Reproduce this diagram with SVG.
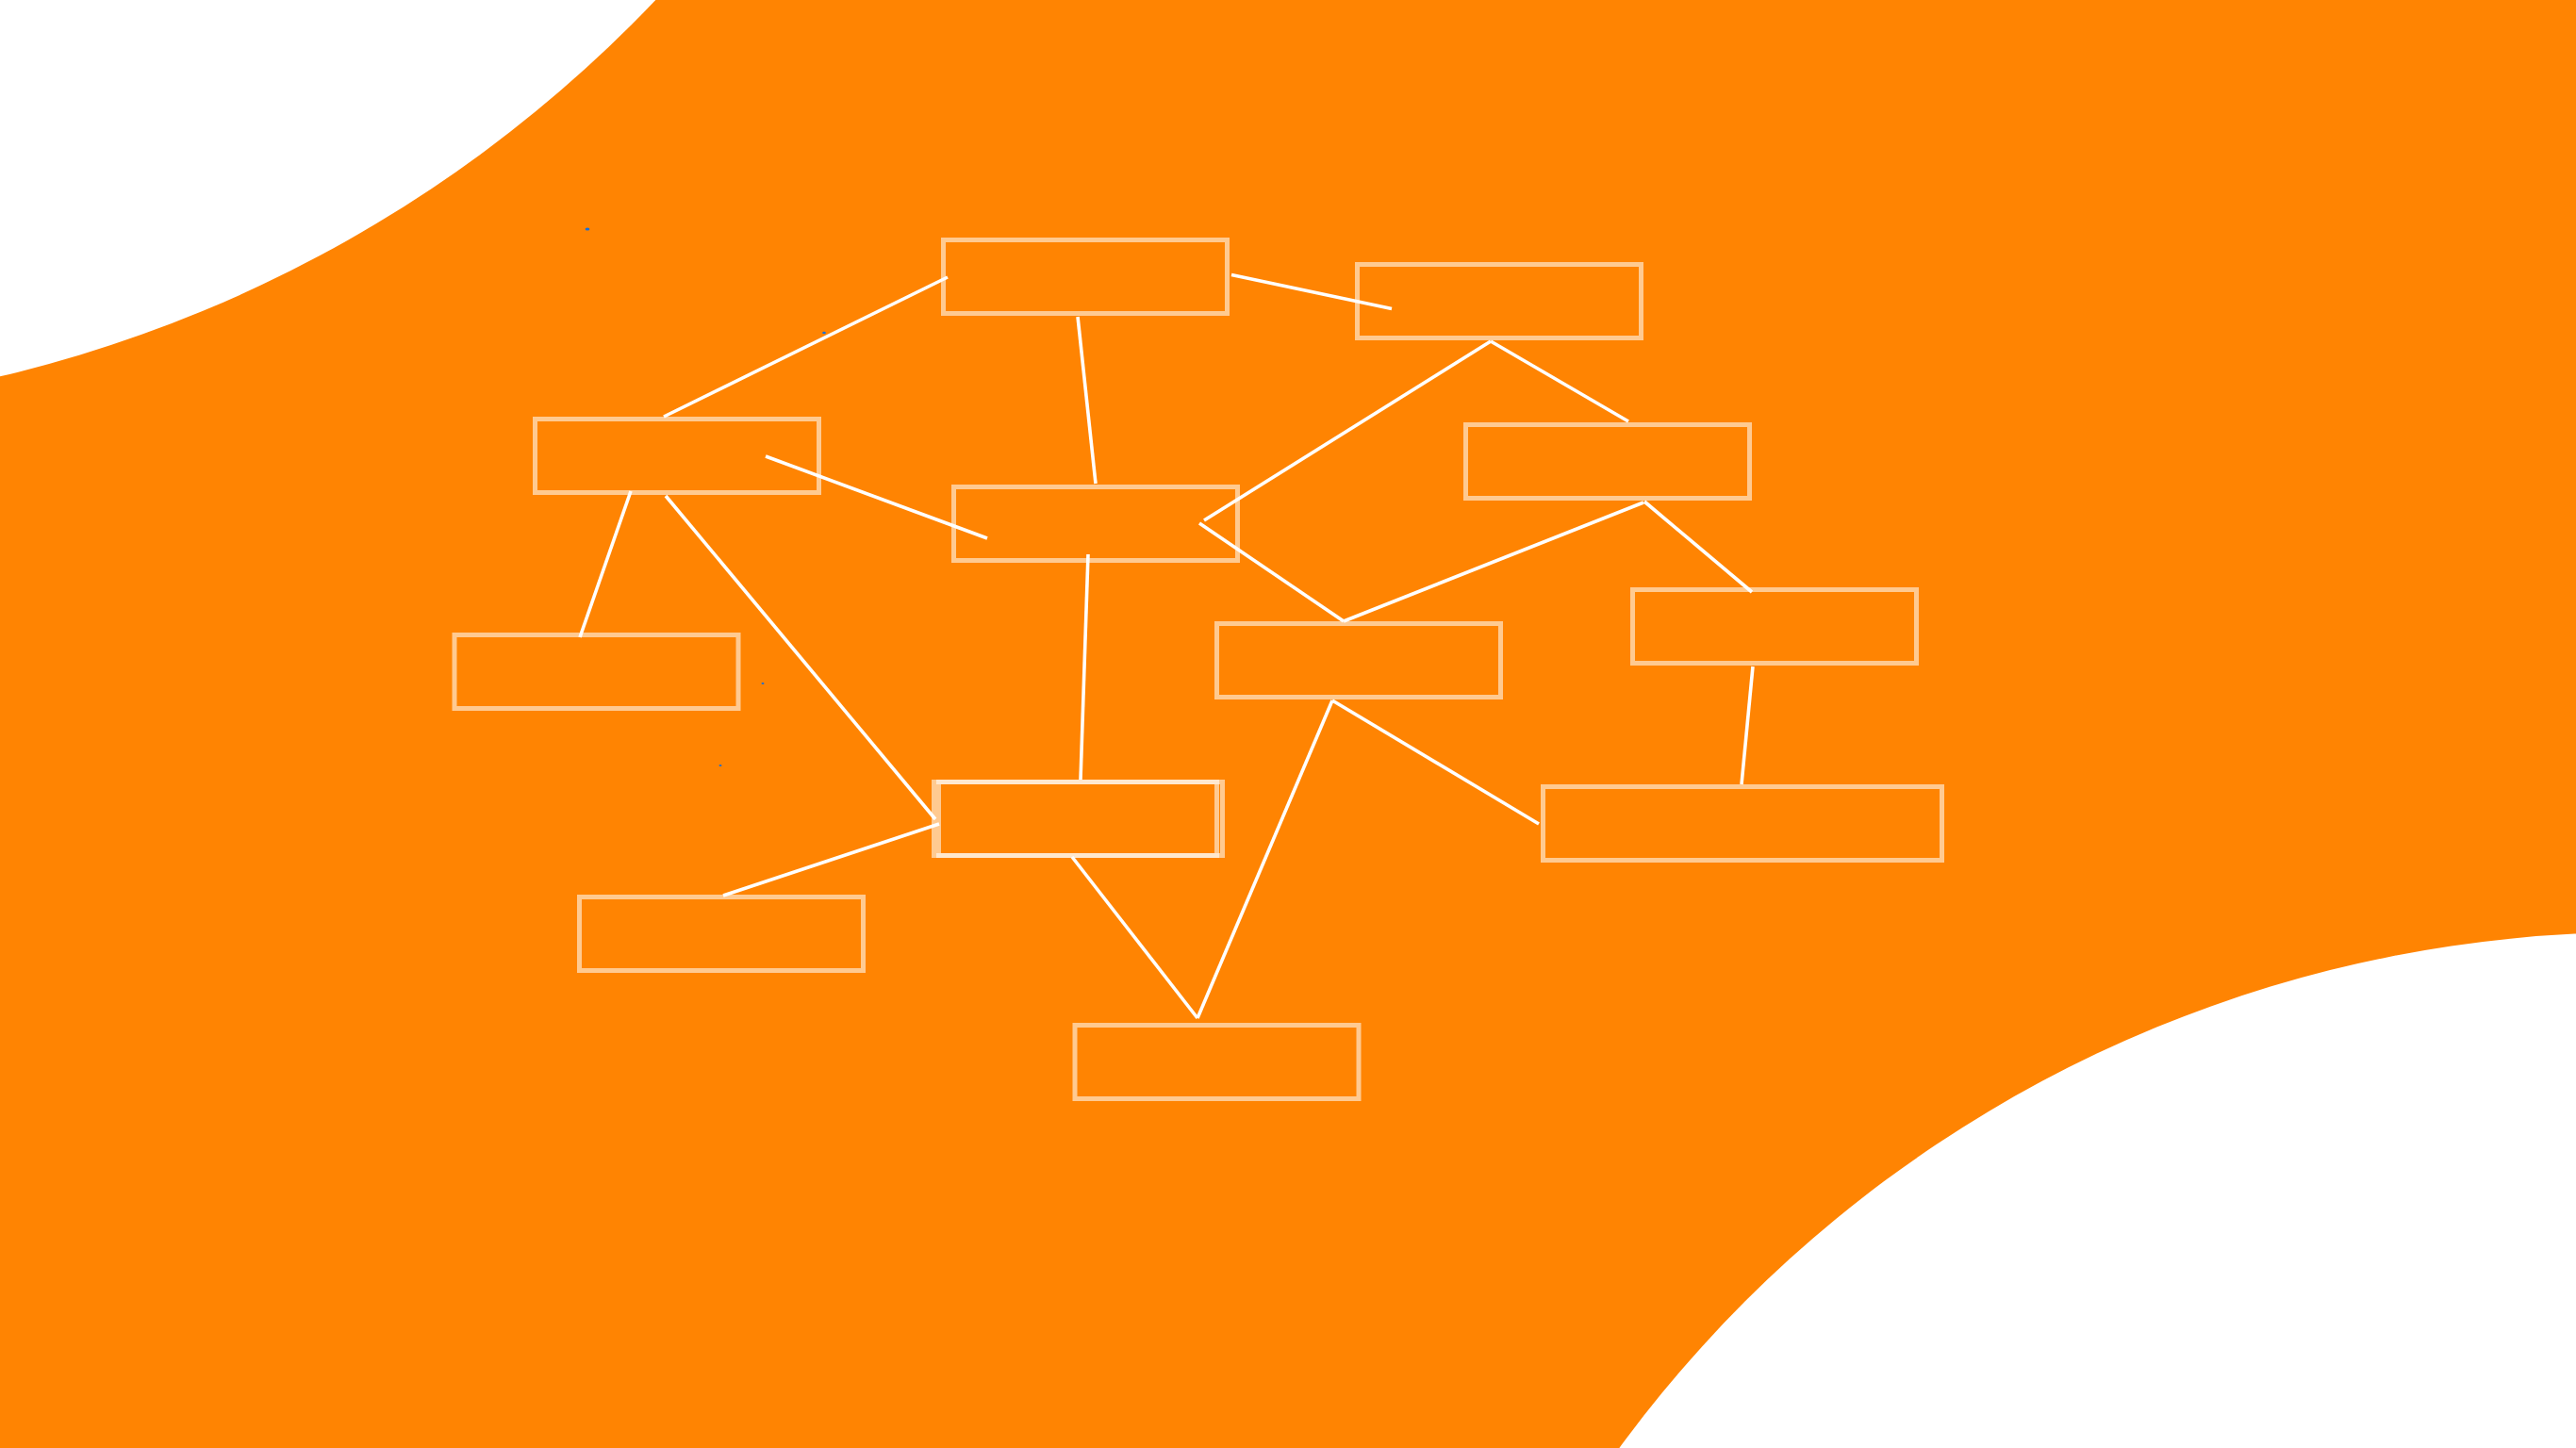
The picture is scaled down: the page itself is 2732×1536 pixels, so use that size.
<svg xmlns="http://www.w3.org/2000/svg" width="2732" height="1536" viewBox="0 0 2732 1536">
<style>
.bg{fill:#FF8402}
.blob{fill:#FFFFFF}
.node rect{fill:none;stroke:#FFFFFF;stroke-opacity:0.57;stroke-width:5}
#connectors line{stroke:#FFFFFF;stroke-width:3.6;stroke-linecap:butt}
.speck{fill:#1A6FD6}
</style>
<rect class="bg" x="0" y="0" width="2732" height="1536"/>
<circle class="blob" cx="-323" cy="-968" r="1405"/>
<circle class="blob" cx="2796" cy="2326" r="1337"/>
<g id="connectors">
<line x1="704" y1="442" x2="1005" y2="294"/>
<line x1="1306" y1="291.5" x2="1476" y2="327.5"/>
<line x1="1143" y1="336" x2="1162" y2="513"/>
<line x1="812" y1="484" x2="1047" y2="571"/>
<line x1="669" y1="521" x2="615" y2="676"/>
<line x1="706" y1="526" x2="992" y2="869"/>
<line x1="1581" y1="362" x2="1277" y2="552"/>
<line x1="1581" y1="362" x2="1727" y2="447"/>
<line x1="1272" y1="555" x2="1425" y2="659"/>
<line x1="1425" y1="659" x2="1743" y2="533"/>
<line x1="1744" y1="532" x2="1858" y2="628"/>
<line x1="1154" y1="588" x2="1146" y2="827"/>
<line x1="1859" y1="707" x2="1847" y2="832"/>
<line x1="1413" y1="743" x2="1632" y2="874"/>
<line x1="1413" y1="743" x2="1270" y2="1080"/>
<line x1="1137" y1="909" x2="1270" y2="1080"/>
<line x1="996" y1="874" x2="767" y2="950"/>
</g>
<g id="node1" class="node"><rect x="1000.5" y="254.5" width="301" height="78"/></g>
<g id="node2" class="node"><rect x="1439.5" y="280.5" width="301" height="78"/></g>
<g id="node3" class="node"><rect x="1554.5" y="450.5" width="301" height="78"/></g>
<g id="node4" class="node"><rect x="567.5" y="444.5" width="301" height="78"/></g>
<g id="node5" class="node"><rect x="1011.5" y="516.5" width="301" height="78"/></g>
<g id="node6" class="node"><rect x="1290.5" y="661.5" width="301" height="78"/></g>
<g id="node7" class="node"><rect x="1731.5" y="625.5" width="301" height="78"/></g>
<g id="node8" class="node"><rect x="482" y="673.5" width="301" height="78"/></g>
<g id="node9" class="node"><rect x="990.5" y="829.5" width="306" height="78"/><rect x="995.5" y="829.5" width="295" height="78"/></g>
<g id="node10" class="node"><rect x="614.5" y="951.5" width="301" height="78"/></g>
<g id="node11" class="node"><rect x="1140" y="1087.5" width="301" height="78"/></g>
<g id="node12" class="node"><rect x="1636.5" y="834.5" width="423" height="78"/></g>
<g id="specks">
<ellipse class="speck" cx="623" cy="243" rx="2.4" ry="1.6"/>
<ellipse class="speck" cx="874" cy="353" rx="1.8" ry="1.3"/>
<ellipse class="speck" cx="809" cy="725" rx="1.5" ry="1.1"/>
<ellipse class="speck" cx="764" cy="812" rx="1.5" ry="1.1"/>
</g>
</svg>
